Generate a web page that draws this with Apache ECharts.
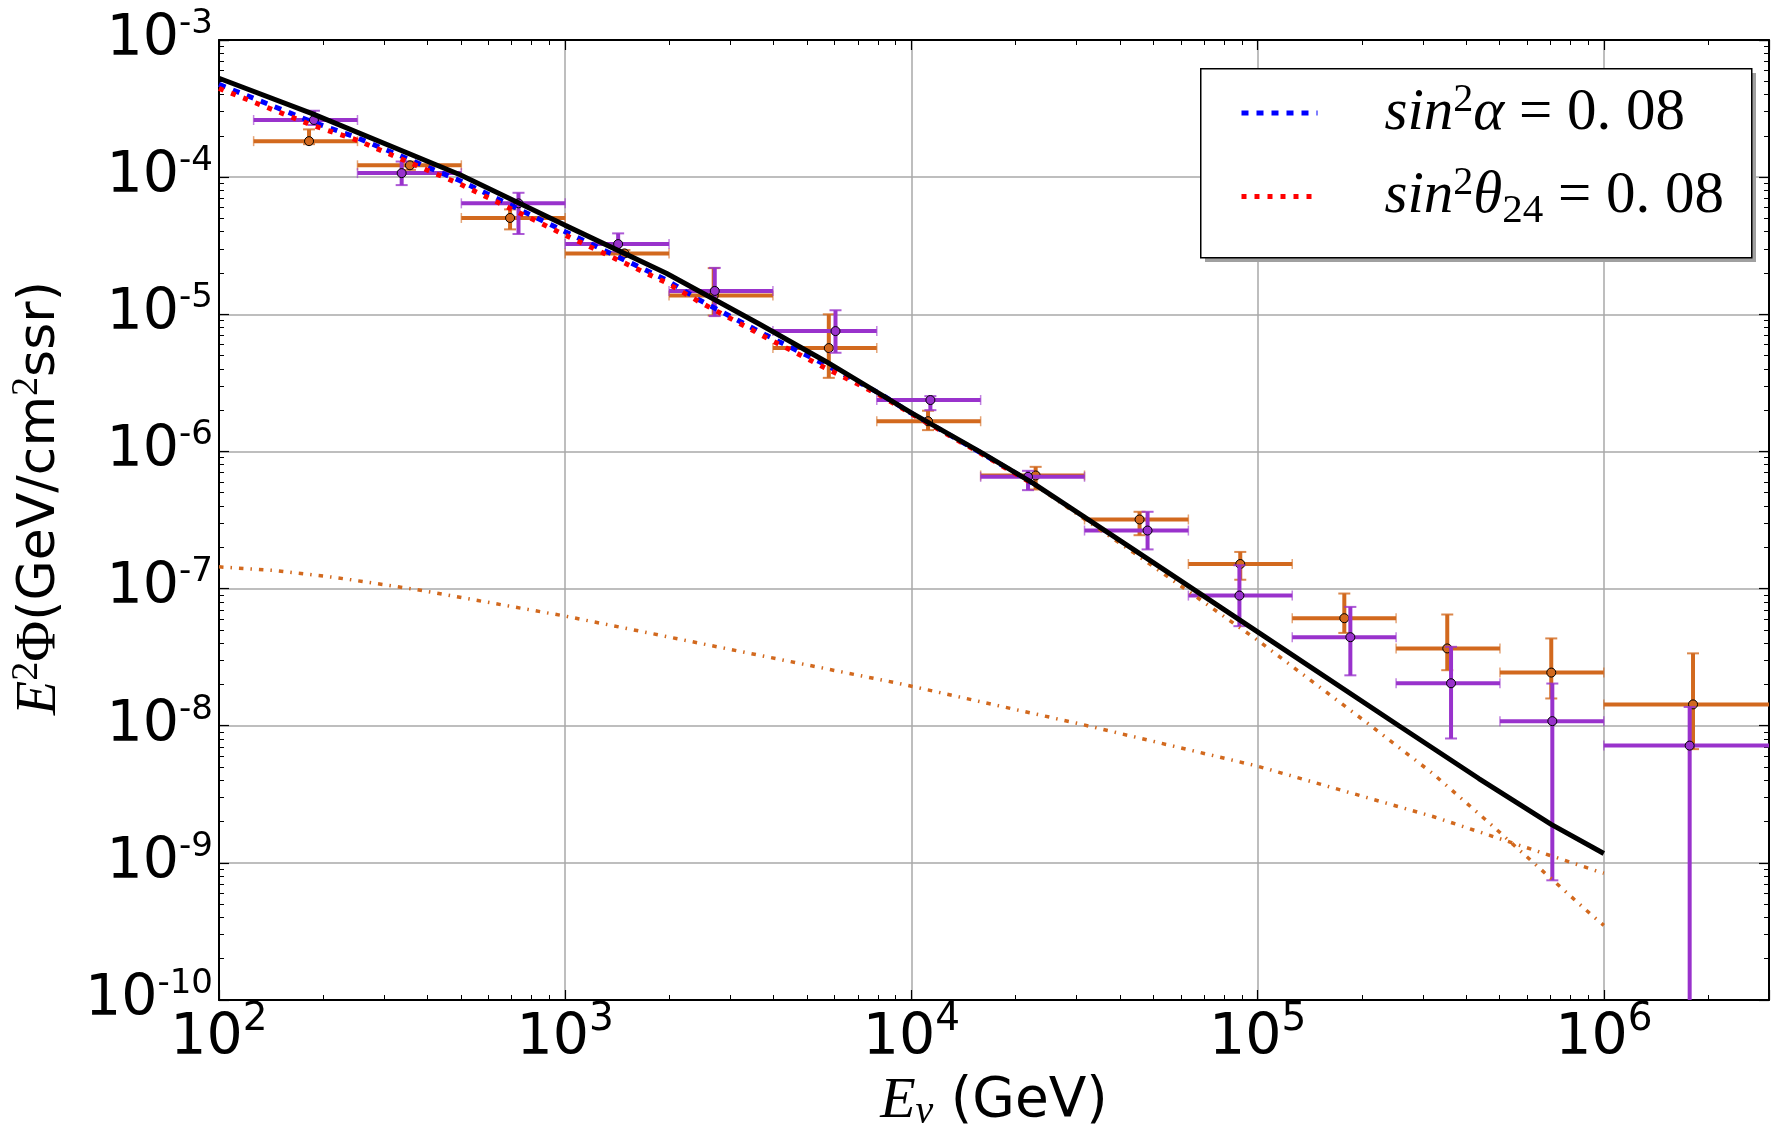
<!DOCTYPE html>
<html>
<head>
<meta charset="utf-8">
<script src="https://cdn.jsdelivr.net/npm/echarts@6/dist/echarts.min.js"></script>
<style>
html,body{margin:0;padding:0;background:#fff;}
#c{width:1779px;height:1139px;}
</style>
</head>
<body>
<div id="c"></div>
<script>
// ---------- data ----------
// energy bin edges (GeV)
const binEdges = [125.9, 251.2, 501.2, 1000, 1995, 3981, 7943, 15849, 31623, 63096, 125893, 251189, 501187, 1000000, 4000000];

// orange unfolded points
const orangeE  = [182, 356, 693, 1483, 2685, 5773, 11170, 22850, 45600, 89100, 178000, 353000, 705000, 1810000];
const orangeF  = [1.83e-4, 1.22e-4, 5.04e-5, 2.78e-5, 1.37e-5, 5.67e-6, 1.66e-6, 6.68e-7, 3.19e-7, 1.51e-7, 6.08e-8, 3.66e-8, 2.44e-8, 1.43e-8];
const orangeLo = [1.74e-4, 1.13e-4, 4.16e-5, 2.63e-5, 9.8e-6, 3.44e-6, 1.43e-6, 5.28e-7, 2.45e-7, 1.16e-7, 4.75e-8, 2.54e-8, 1.58e-8, 6.75e-9];
const orangeHi = [2.23e-4, 1.30e-4, 5.82e-5, 2.94e-5, 2.17e-5, 1.0e-5, 1.98e-6, 7.72e-7, 3.63e-7, 1.85e-7, 9.2e-8, 6.47e-8, 4.33e-8, 3.37e-8];

// purple unfolded points
const purpleE  = [188, 337, 733, 1422, 2704, 6036, 11345, 21720, 48100, 88600, 185300, 362000, 710000, 1770000];
const purpleF  = [2.61e-4, 1.07e-4, 6.44e-5, 3.25e-5, 1.48e-5, 7.54e-6, 2.37e-6, 6.53e-7, 2.65e-7, 8.89e-8, 4.42e-8, 2.04e-8, 1.08e-8, 7.16e-9];
const purpleLo = [2.40e-4, 8.75e-5, 3.85e-5, 2.86e-5, 9.7e-6, 5.24e-6, 2.0e-6, 5.22e-7, 1.93e-7, 5.32e-8, 2.33e-8, 8.07e-9, 7.46e-10, 1e-12];
const purpleHi = [3.05e-4, 1.30e-4, 7.69e-5, 3.89e-5, 2.18e-5, 1.07e-5, 2.53e-6, 7.22e-7, 3.63e-7, 1.48e-7, 7.35e-8, 3.76e-8, 2.03e-8, 1.37e-8];

// black solid curve
const blackE = [100, 185, 497, 1000, 1959, 3614, 5675, 10000, 16070, 22390, 43550, 100000, 255900, 435500, 704700, 1000000];
const blackF = [5.26e-4, 2.92e-4, 1.04e-4, 4.45e-5, 1.99e-5, 8.57e-6, 4.51e-6, 1.91e-6, 9.67e-7, 5.9e-7, 1.95e-7, 4.83e-8, 1.0e-8, 4.12e-9, 1.91e-9, 1.17e-9];

// blue dashed curve (sin^2 alpha = 0.08)
const blueE = [100, 185, 249, 497, 1000, 1959, 2443, 3802, 5675, 8091, 10000, 16070, 22390];
const blueF = [4.75e-4, 2.54e-4, 1.95e-4, 9.42e-5, 4.0e-5, 1.78e-5, 1.27e-5, 7.05e-6, 4.27e-6, 2.65e-6, 1.90e-6, 9.6e-7, 5.86e-7];

// red dotted curve (sin^2 theta_24 = 0.08)
const redE = [100, 185, 249, 497, 1000, 1959, 2443, 3802, 5675, 8091, 10000, 16070, 22390];
const redF = [4.44e-4, 2.40e-4, 1.87e-4, 8.9e-5, 3.78e-5, 1.70e-5, 1.23e-5, 6.77e-6, 4.03e-6, 2.58e-6, 1.88e-6, 9.5e-7, 5.81e-7];

// orange dash-dot, shallow component
const shallowE = [100, 147, 219, 366, 1000, 9230, 30690, 100000, 324300, 944100, 1000000];
const shallowF = [1.44e-7, 1.35e-7, 1.2e-7, 9.9e-8, 6.3e-8, 2.03e-8, 1.03e-8, 5.07e-9, 2.16e-9, 8.8e-10, 8.4e-10];

// orange dash-dot, steep component
const steepE = [10000, 19950, 43550, 100000, 208000, 320000, 463000, 912000, 1000000];
const steepF = [1.89e-6, 7.1e-7, 1.85e-7, 4.2e-8, 1.04e-8, 4.5e-9, 1.99e-9, 4.27e-10, 3.5e-10];

// tick labels (powers of ten)
const xTickExp = [2, 3, 4, 5, 6];
const yTickExp = [-10, -9, -8, -7, -6, -5, -4, -3];

const legendNames = ['sin²α = 0.08', 'sin²θ24 = 0.08'];
// ---------------------------------------------------

const ORANGE = '#d2691e';
const PURPLE = '#9932cc';
const BLUE_DASH = [7, 8];
const RED_DASH = [5, 8];
const DASHDOT = [4.5, 7, 1.5, 7];

function errData(E, F, lo, hi) {
  return E.map((e, i) => [e, F[i], binEdges[i], binEdges[i + 1], lo[i], hi[i]]);
}
function pairs(E, F) { return E.map((e, i) => [e, F[i]]); }

function errRender(color) {
  return function (params, api) {
    const cs = params.coordSys;
    const L = cs.x, R = cs.x + cs.width, T = cs.y, B = cs.y + cs.height;
    const c = api.coord([api.value(0), api.value(1)]);
    const xl = api.coord([api.value(2), api.value(1)])[0];
    const xh = api.coord([api.value(3), api.value(1)])[0];
    const yl = api.coord([api.value(0), api.value(4)])[1];
    const yh = api.coord([api.value(0), api.value(5)])[1];
    const ch = [];
    ch.push({type: 'line', shape: {x1: Math.max(xl, L), y1: c[1], x2: Math.min(xh, R), y2: c[1]},
             style: {stroke: color, lineWidth: 4}});
    ch.push({type: 'line', shape: {x1: c[0], y1: Math.min(yl, B), x2: c[0], y2: Math.max(yh, T)},
             style: {stroke: color, lineWidth: 4}});
    if (xl >= L) ch.push({type: 'line', shape: {x1: xl, y1: c[1] - 5, x2: xl, y2: c[1] + 5}, style: {stroke: color, lineWidth: 1.5, opacity: 0.6}});
    if (xh <= R) ch.push({type: 'line', shape: {x1: xh, y1: c[1] - 5, x2: xh, y2: c[1] + 5}, style: {stroke: color, lineWidth: 1.5, opacity: 0.6}});
    if (yl <= B) ch.push({type: 'line', shape: {x1: c[0] - 6, y1: yl, x2: c[0] + 6, y2: yl}, style: {stroke: color, lineWidth: 2, opacity: 0.8}});
    if (yh >= T) ch.push({type: 'line', shape: {x1: c[0] - 6, y1: yh, x2: c[0] + 6, y2: yh}, style: {stroke: color, lineWidth: 2, opacity: 0.8}});
    ch.push({type: 'circle', shape: {cx: c[0], cy: c[1], r: 4.5}, style: {fill: color, stroke: '#000', lineWidth: 1}});
    return {type: 'group', children: ch};
  };
}

function isPow(v, list) {
  const e = Math.round(Math.log10(v));
  return (Math.abs(Math.log10(v) - e) < 1e-6 && list.indexOf(e) >= 0) ? e : null;
}

const tickFont = 'DejaVu Sans';
const axisCommon = {
  type: 'log', logBase: 10,
  axisLine: {show: true, onZero: false, lineStyle: {color: '#000', width: 2}},
  axisTick: {show: true, inside: true, length: 10, lineStyle: {color: '#000', width: 1.2}},
  minorTick: {show: true, splitNumber: 9, length: 5, lineStyle: {color: '#000', width: 1}},
  minorSplitLine: {show: false}
};

const chart = echarts.init(document.getElementById('c'), null, {renderer: 'canvas'});

const option = {
  animation: false,
  backgroundColor: '#fff',
  grid: {left: 219, right: 10, top: 40, bottom: 139, containLabel: false, outerBoundsMode: 'none'},
  xAxis: [
    Object.assign({}, axisCommon, {
      min: 100, max: 3e6, position: 'bottom',
      splitLine: {show: true, lineStyle: {color: '#a8a8a8', width: 1.5}},
      axisLabel: {
        margin: 0, color: '#000',
        formatter: function (v) { const e = isPow(v, xTickExp); return e === null ? '' : '{b|10}{s|' + e + '}'; },
        rich: {
          b: {fontFamily: tickFont, fontSize: 57, lineHeight: 78, color: '#000'},
          s: {fontFamily: tickFont, fontSize: 39, lineHeight: 39, verticalAlign: 'top', color: '#000'}
        }
      },
      name: '{e|E}{nu|ν}{n| (GeV)}',
      nameLocation: 'middle', nameGap: 70,
      nameTextStyle: {
        rich: {
          e: {fontFamily: 'Liberation Serif', fontStyle: 'italic', fontSize: 58, lineHeight: 62, color: '#000'},
          nu: {fontFamily: 'Liberation Serif', fontStyle: 'italic', fontSize: 40, lineHeight: 40, verticalAlign: 'bottom', color: '#000'},
          n: {fontFamily: tickFont, fontSize: 55, lineHeight: 62, color: '#000'}
        }
      }
    }),
    Object.assign({}, axisCommon, {
      min: 100, max: 3e6, position: 'top',
      splitLine: {show: false}, axisLabel: {show: false}
    })
  ],
  yAxis: [
    Object.assign({}, axisCommon, {
      min: 1e-10, max: 1e-3, position: 'left',
      splitLine: {show: true, lineStyle: {color: '#a8a8a8', width: 1.5}},
      axisLabel: {
        margin: 6, color: '#000',
        formatter: function (v) { const e = isPow(v, yTickExp); return e === null ? '' : '{b|10}{s|' + e + '}'; },
        rich: {
          b: {fontFamily: tickFont, fontSize: 57, lineHeight: 80, color: '#000'},
          s: {fontFamily: tickFont, fontSize: 34, lineHeight: 34, verticalAlign: 'top', padding: [7, 0, 0, 0], color: '#000'}
        }
      },
      name: '{e|E}{s|2}{p|Φ}{n|(GeV/cm}{s|2}{n|ssr)}',
      nameLocation: 'middle', nameGap: 147,
      nameTextStyle: {
        padding: [0, 0, 0, 44],
        rich: {
          e: {fontFamily: 'Liberation Serif', fontStyle: 'italic', fontSize: 56, lineHeight: 64, color: '#000'},
          s: {fontFamily: 'Liberation Serif', fontSize: 38, lineHeight: 38, verticalAlign: 'top', color: '#000'},
          p: {fontFamily: 'Liberation Serif', fontSize: 56, lineHeight: 64, color: '#000'},
          n: {fontFamily: tickFont, fontSize: 52, lineHeight: 64, color: '#000'}
        }
      }
    }),
    Object.assign({}, axisCommon, {
      min: 1e-10, max: 1e-3, position: 'right',
      splitLine: {show: false}, axisLabel: {show: false}
    })
  ],
  legend: {
    show: true, orient: 'vertical',
    data: [
      {name: legendNames[0], itemStyle: {opacity: 0}, lineStyle: {color: '#0000ff', width: 5, type: BLUE_DASH}},
      {name: legendNames[1], itemStyle: {opacity: 0}, lineStyle: {color: '#ff0000', width: 5, type: RED_DASH}}
    ],
    left: 1239, top: 78, padding: 0, itemWidth: 76, itemHeight: 14, itemGap: 19,
    selectedMode: false, z: 10,
    formatter: function (name) {
      if (name === legendNames[0]) return '{sp| }{i|sin}{sup|2}{i|α}{n| = 0. 08}';
      return '{sp| }{i|sin}{sup|2}{i|θ}{sub|24}{n| = 0. 08}';
    },
    textStyle: {
      rich: {
        sp: {width: 62, fontSize: 10, lineHeight: 70},
        i: {fontFamily: 'Liberation Serif', fontStyle: 'italic', fontSize: 59, lineHeight: 70, color: '#000'},
        sup: {fontFamily: 'Liberation Serif', fontSize: 40, lineHeight: 40, verticalAlign: 'top', padding: [2, 0, 0, 0], color: '#000'},
        sub: {fontFamily: 'Liberation Serif', fontSize: 41, lineHeight: 41, verticalAlign: 'bottom', color: '#000'},
        n: {fontFamily: 'Liberation Serif', fontSize: 59, lineHeight: 70, color: '#000'}
      }
    }
  },
  graphic: [
    {type: 'rect', left: 1205, top: 73, shape: {width: 551, height: 189}, style: {fill: '#a0a0a0'}, z: 5, silent: true},
    {type: 'rect', left: 1200, top: 68, shape: {width: 551, height: 189}, style: {fill: '#fff', stroke: '#000', lineWidth: 1.5}, z: 6, silent: true}
  ],
  series: [
    {type: 'custom', name: 'orange', xAxisIndex: 0, yAxisIndex: 0, z: 2,
     renderItem: errRender(ORANGE), encode: {x: 0, y: 1}, data: errData(orangeE, orangeF, orangeLo, orangeHi)},
    {type: 'custom', name: 'purple', xAxisIndex: 0, yAxisIndex: 0, z: 2,
     renderItem: errRender(PURPLE), encode: {x: 0, y: 1}, data: errData(purpleE, purpleF, purpleLo, purpleHi)},
    {type: 'line', name: 'shallow', data: pairs(shallowE, shallowF), symbol: 'none', smooth: false, z: 3,
     lineStyle: {color: ORANGE, width: 3.5, type: DASHDOT}},
    {type: 'line', name: 'steep', data: pairs(steepE, steepF), symbol: 'none', smooth: false, z: 3,
     lineStyle: {color: ORANGE, width: 3.5, type: DASHDOT}},
    {type: 'line', name: legendNames[0], data: pairs(blueE, blueF), symbol: 'none', smooth: false, z: 3,
     color: '#0000ff', lineStyle: {color: '#0000ff', width: 5, type: BLUE_DASH}},
    {type: 'line', name: legendNames[1], data: pairs(redE, redF), symbol: 'none', smooth: false, z: 3,
     color: '#ff0000', lineStyle: {color: '#ff0000', width: 5, type: RED_DASH}},
    {type: 'line', name: 'total', data: pairs(blackE, blackF), symbol: 'none', smooth: false, z: 4,
     lineStyle: {color: '#000', width: 5}}
  ]
};
chart.setOption(option);
</script>
</body>
</html>
